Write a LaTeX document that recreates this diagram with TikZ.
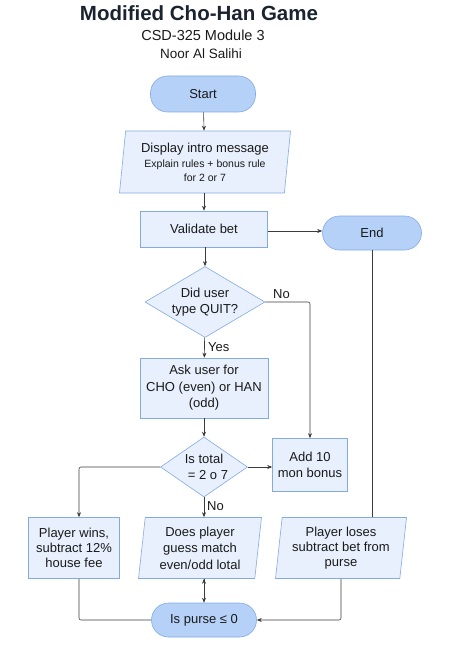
\documentclass[tikz,border=0pt]{standalone}
\usepackage{fontspec}
\setmainfont{Liberation Sans}
\usetikzlibrary{arrows.meta,positioning,calc,shapes.geometric}
\definecolor{boxfill}{HTML}{E7F0FC}
\definecolor{boxline}{HTML}{84AAE2}
\definecolor{pillfill}{HTML}{B5D1F7}
\definecolor{wirecol}{HTML}{3C3C3C}
\definecolor{ink}{HTML}{1A1A1A}
\definecolor{titleink}{HTML}{1B2331}
\newcommand{\smalltxt}{\fontsize{10.5}{13}\selectfont}

\begin{document}
\begin{tikzpicture}
  [x=1pt,y=-1pt,
   every node/.style={text=ink, font=\fontsize{13}{16.5}\selectfont, align=center, inner sep=0pt},
   box/.style={rectangle, draw=boxline, fill=boxfill, line width=0.6pt},
   io/.style={trapezium, trapezium left angle=81, trapezium right angle=99, trapezium stretches body, draw=boxline, fill=boxfill, line width=0.6pt},
   decision/.style={diamond, draw=boxline, fill=boxfill, line width=0.6pt},
   terminal/.style={rectangle, rounded corners=17pt, draw=boxline, fill=pillfill, line width=0.6pt},
   wire/.style={draw=wirecol, line width=0.6pt},
   arr/.style={wire, -{Stealth[length=5pt,width=4pt]}}]
  \useasboundingbox (0,0) rectangle (457,666);

  % heading
  \node [text=titleink, font=\fontsize{20.5}{24}\bfseries] (title) at (199,13) {Modified Cho-Han Game};
  \node [font=\fontsize{14.5}{17}\selectfont] (course) at (203,35) {CSD-325 Module 3};
  \node [font=\fontsize{13.5}{16}\selectfont] (author) at (201,54) {Noor Al Salihi};

  % main column
  \node [terminal, minimum width=105pt, minimum height=36pt] (start) at (203,94) {Start};
  \node [io, minimum width=171pt, minimum height=62pt] (intro) at (205,162)
    {Display intro message\\[-1pt]{\smalltxt Explain rules + bonus rule}\\[-3pt]{\smalltxt for 2 or 7}};
  \node [box, minimum width=127pt, minimum height=36pt] (validate) at (204,229) {Validate bet};
  \node [terminal, minimum width=99pt, minimum height=34pt] (end) at (372,233) {End};
  \node [decision, shape aspect=1.7, minimum width=120pt, minimum height=71pt] (quit) at (205,302) {Did user\\type QUIT?};
  \node [box, minimum width=128pt, minimum height=60pt] (ask) at (204,388) {Ask user for\\CHO (even) or HAN\\(odd)};
  \node [decision, shape aspect=1.45, minimum width=87pt, minimum height=60pt] (total) at (204,467) {Is total\\\hspace*{8pt}= 2 o 7};
  \node [box, minimum width=75pt, minimum height=53pt] (add) at (310,465) {Add 10\\mon bonus};

  % bottom row
  \node [box, minimum width=91pt, minimum height=61pt, font=\fontsize{13}{15}\selectfont] (wins) at (74,548) {Player wins,\\subtract 12\%\\house fee};
  \node [io, minimum width=123pt, minimum height=61pt] (guess) at (200,548) {Does player\\guess match\\even/odd lotal};
  \node [io, minimum width=131pt, minimum height=61pt, font=\fontsize{13}{15}\selectfont] (loses) at (341,548) {Player loses\\subtract bet from\\purse};
  \node [terminal, minimum width=105pt, minimum height=34pt] (purse) at (204,620) {Is purse ≤ 0};

  % labels
  \node [anchor=west] (yes) at (208,347) {Yes};
  \node [anchor=west] (noquit) at (273,294) {No};
  \node [anchor=west] (nototal) at (207,506) {No};

  \coordinate (vbet) at ([yshift=-2pt]validate.east);

  \path [arr]
  (start) edge (intro)
  (intro.south -| validate.north) edge (validate.north)
  (validate.south -| quit.north) edge (quit.north)
  (quit) edge (ask)
  (ask) edge (total)
  (vbet) edge (vbet -| end.west)
  (total.east) edge (total.east -| add.west)
  (total.south) edge (total.south |- guess.north)
  (guess.south -| purse.north) edge (purse.north);

  \draw [arr, rounded corners=2pt] (quit.east) -| (add.north);
  \draw [arr, rounded corners=2pt] (total.west) -| ([xshift=5pt]wins.north);
  \draw [arr, rounded corners=2pt] (loses.south) |- (purse.east);
  \draw [wire, rounded corners=2pt] ([xshift=5pt]wins.south) |- (purse.west);
  \draw [wire] (end.south |- loses.north) -- (end.south);

\end{tikzpicture}
\end{document}
